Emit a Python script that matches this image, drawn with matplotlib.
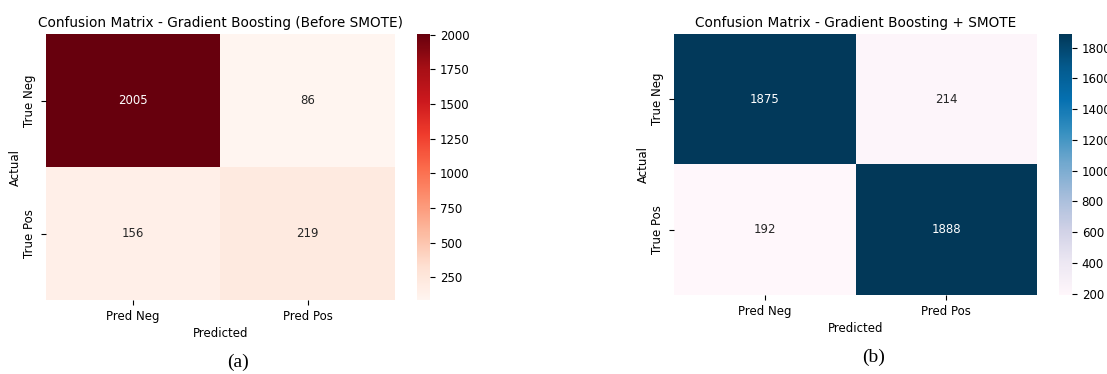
import numpy as np
import matplotlib
matplotlib.use("Agg")
import matplotlib.pyplot as plt
import seaborn as sns

# confusion matrices (rows: actual, cols: predicted)
cm_before = np.array([[2005, 86],
                      [156, 219]])
cm_smote = np.array([[1875, 214],
                     [192, 1888]])
row_labels = ["True Neg", "True Pos"]
col_labels = ["Pred Neg", "Pred Pos"]
titles = ["Confusion Matrix - Gradient Boosting (Before SMOTE)",
          "Confusion Matrix - Gradient Boosting + SMOTE"]
captions = ["(a)", "(b)"]

W, H = 1107, 374
fig = plt.figure(figsize=(W / 100, H / 100), dpi=100)


def box(x0, y0, x1, y1):
    # pixel box -> figure fraction rect
    return [x0 / W, (H - y1) / H, (x1 - x0) / W, (y1 - y0) / H]


panels = [
    (cm_before, "Reds", box(46, 34, 395, 300), box(417, 34, 430, 300), (238, 362)),
    (cm_smote, "PuBu", box(674, 34, 1037, 295), box(1059, 34, 1072, 295), (874, 357)),
]

for i, (cm, cmap, rect, crect, cap) in enumerate(panels):
    ax = fig.add_axes(rect)
    cax = fig.add_axes(crect)
    sns.heatmap(cm, annot=True, fmt="d", cmap=cmap, ax=ax, cbar_ax=cax,
                xticklabels=col_labels, yticklabels=row_labels,
                annot_kws={"fontsize": 8.5})
    ax.set_title(titles[i], fontsize=9.8, pad=5)
    ax.set_xlabel("Predicted", fontsize=8.5, labelpad=3)
    ax.set_ylabel("Actual", fontsize=8.5, labelpad=1)
    ax.tick_params(labelsize=8.5)
    cax.tick_params(labelsize=8.5)
    fig.text(cap[0] / W, (H - cap[1]) / H, captions[i], ha="center", va="center",
             fontsize=14, family="Liberation Serif")

fig.savefig("out.png", dpi=100)
